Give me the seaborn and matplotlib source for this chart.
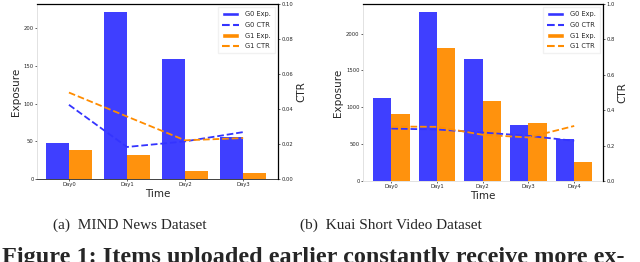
import numpy as np
import pandas as pd
import matplotlib
matplotlib.use('Agg')
import matplotlib.pyplot as plt
import seaborn as sns
from matplotlib.patches import Patch
from matplotlib.lines import Line2D

sns.set_style('white')

# MIND news dataset
mind_days = ['Day0', 'Day1', 'Day2', 'Day3']
mind_g0_exp = [48, 221, 159, 56]
mind_g1_exp = [38, 32, 10, 8]
mind_g0_ctr = [0.0424, 0.0183, 0.0215, 0.0268]
mind_g1_ctr = [0.0494, 0.0357, 0.0221, 0.0234]

# Kuai short video dataset
kuai_days = ['Day0', 'Day1', 'Day2', 'Day3', 'Day4']
kuai_g0_exp = [1128, 2287, 1658, 755, 575]
kuai_g1_exp = [903, 1810, 1092, 782, 256]
kuai_g0_ctr = [0.296, 0.291, 0.274, 0.255, 0.227]
kuai_g1_ctr = [0.308, 0.306, 0.261, 0.246, 0.311]

BLUE = '#3434ff'
ORANGE = '#ff8c00'


def draw(ax, days, g0e, g1e, g0c, g1c, ctr_max, xlim, bottom_color):
    df = pd.DataFrame({'Time': days * 2,
                       'Exposure': g0e + g1e,
                       'Group': ['G0'] * len(days) + ['G1'] * len(days)})
    sns.barplot(data=df, x='Time', y='Exposure', hue='Group',
                palette=[BLUE, ORANGE], saturation=1, errorbar=None,
                width=0.8, ax=ax, legend=False, edgecolor='none')
    for p in ax.patches:
        p.set_alpha(0.95)
    ax.set_xlim(*xlim)
    ax.set_xlabel('Time', fontsize=7.5, labelpad=1)
    ax.set_ylabel('Exposure', fontsize=7.5, labelpad=2)
    ax.tick_params(axis='both', labelsize=3.8, length=1.5, pad=1,
                   left=True, bottom=True, width=0.5)
    for s in ax.spines.values():
        s.set_color('#dddddd')
        s.set_linewidth(0.6)
    ax.spines['bottom'].set_color(bottom_color)

    ax2 = ax.twinx()
    x = np.arange(len(days))
    sns.lineplot(x=x, y=g0c, ax=ax2, color=BLUE, linestyle='--', linewidth=1.3)
    sns.lineplot(x=x, y=g1c, ax=ax2, color=ORANGE, linestyle='--', linewidth=1.3)
    ax2.set_ylim(0, ctr_max)
    ax2.set_xlim(*xlim)
    ax2.set_ylabel('CTR', fontsize=7.5, labelpad=2)
    ax2.tick_params(axis='y', labelsize=3.8, length=1.5, pad=1, right=True, width=0.5)
    for name, s in ax2.spines.items():
        if name in ('top', 'right'):
            s.set_color('black')
            s.set_linewidth(0.9)
        else:
            s.set_visible(False)

    handles = [Patch(facecolor=BLUE, label='G0 Exp.'),
               Line2D([], [], color=BLUE, linestyle='--', label='G0 CTR'),
               Patch(facecolor=ORANGE, label='G1 Exp.'),
               Line2D([], [], color=ORANGE, linestyle='--', label='G1 CTR')]
    ax2.legend(handles=handles, loc='upper right', fontsize=4.8,
               frameon=True, handlelength=2.6, borderpad=0.6,
               labelspacing=0.7, edgecolor='#eeeeee', fancybox=False)
    return ax2


fig = plt.figure(figsize=(6.4, 2.62), dpi=100)
ax_a = fig.add_axes([37 / 640, 1 - 179 / 262, 241 / 640, 175 / 262])
ax_b = fig.add_axes([363 / 640, 1 - 181 / 262, 240 / 640, 177 / 262])

draw(ax_a, mind_days, mind_g0_exp, mind_g1_exp, mind_g0_ctr, mind_g1_ctr,
     0.10, (-0.55, 3.6), '#222222')
draw(ax_b, kuai_days, kuai_g0_exp, kuai_g1_exp, kuai_g0_ctr, kuai_g1_ctr,
     1.0, (-0.62, 4.63), '#dddddd')

serif = ['Liberation Serif', 'DejaVu Serif']
fig.text(130 / 640, 1 - 225 / 262, '(a)  MIND News Dataset', ha='center',
         va='center', fontsize=11, family=serif)
fig.text(391 / 640, 1 - 225 / 262, '(b)  Kuai Short Video Dataset', ha='center',
         va='center', fontsize=11, family=serif)
fig.text(0.003, 1 - 247 / 262,
         'Figure 1: Items uploaded earlier constantly receive more ex-',
         ha='left', va='top', fontsize=17.5, fontweight='bold', family=serif)

fig.savefig('out.png', dpi=100)
